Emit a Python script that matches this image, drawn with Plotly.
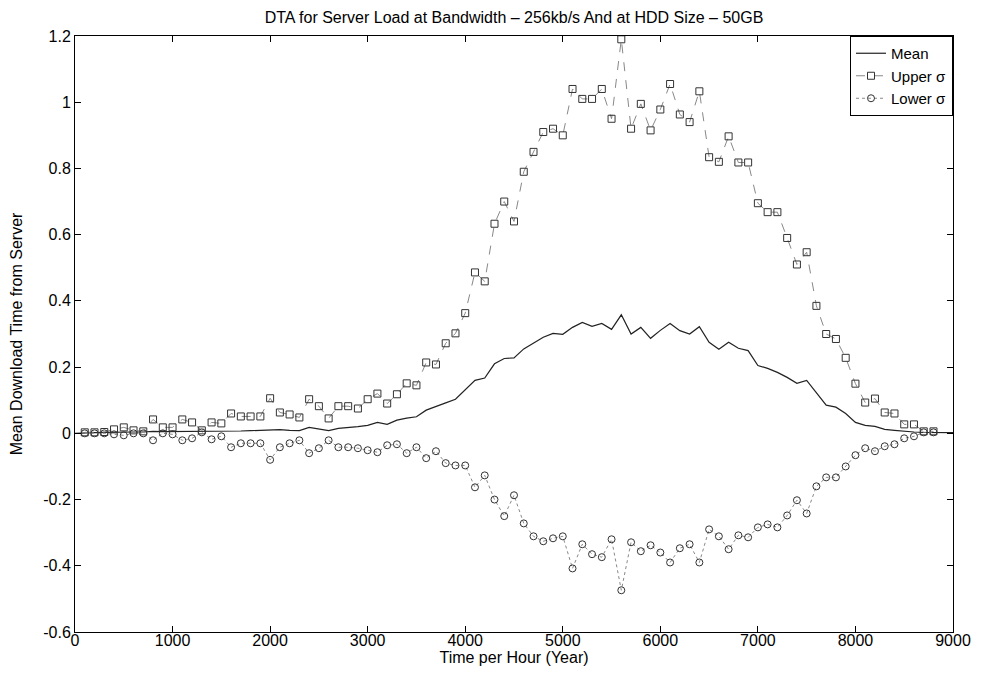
import plotly.graph_objects as go

# Hours at which the mean is plotted
mean_hours = [h * 100 for h in range(0, 91)]
mean_vals = [0.0, 0.002, 0.002, 0.003, 0.004, 0.005, 0.004, 0.004, 0.006, 0.005,
             0.005, 0.006, 0.006, 0.005, 0.006, 0.005, 0.007, 0.007, 0.008, 0.009,
             0.012, 0.011, 0.009, 0.008, 0.018, 0.013, 0.008, 0.015, 0.017, 0.02,
             0.024, 0.033, 0.027, 0.04, 0.046, 0.05, 0.07, 0.082, 0.092, 0.103,
             0.13, 0.16, 0.167, 0.21, 0.226, 0.228, 0.255, 0.272, 0.29, 0.302,
             0.299, 0.32, 0.335, 0.323, 0.332, 0.314, 0.358, 0.30, 0.32, 0.287,
             0.311, 0.332, 0.31, 0.30, 0.322, 0.275, 0.254, 0.275, 0.257, 0.25,
             0.205, 0.196, 0.184, 0.169, 0.151, 0.16, 0.121, 0.085, 0.079, 0.06,
             0.033, 0.024, 0.021, 0.012, 0.009, 0.006, 0.004, 0.003, 0.003, 0.002,
             0.002]

# Hours at which the sigma bands are sampled
sigma_hours = [h * 100 for h in range(1, 89)]
upper_vals = [0.003, 0.003, 0.004, 0.012, 0.018, 0.009, 0.006, 0.042, 0.018, 0.018,
              0.042, 0.033, 0.009, 0.033, 0.03, 0.06, 0.051, 0.051, 0.051, 0.106,
              0.063, 0.057, 0.048, 0.103, 0.082, 0.045, 0.082, 0.082, 0.075, 0.103,
              0.12, 0.09, 0.118, 0.151, 0.145, 0.214, 0.208, 0.272, 0.302, 0.363,
              0.486, 0.459, 0.633, 0.70, 0.64, 0.79, 0.85, 0.91, 0.92, 0.90,
              1.04, 1.01, 1.01, 1.04, 0.95, 1.19, 0.92, 0.995, 0.915, 0.978,
              1.055, 0.963, 0.94, 1.033, 0.834, 0.82, 0.897, 0.818, 0.818, 0.695,
              0.668, 0.668, 0.59, 0.51, 0.547, 0.385, 0.30, 0.285, 0.228, 0.15,
              0.093, 0.105, 0.063, 0.06, 0.027, 0.027, 0.006, 0.006]
lower_vals = [0.0, 0.0, 0.0, -0.003, -0.006, 0.0, 0.0, -0.021, 0.0, -0.003,
              -0.021, -0.015, 0.003, -0.018, -0.009, -0.042, -0.03, -0.03, -0.03, -0.08,
              -0.042, -0.03, -0.021, -0.06, -0.045, -0.021, -0.042, -0.042, -0.045, -0.051,
              -0.057, -0.036, -0.033, -0.06, -0.042, -0.075, -0.054, -0.09, -0.097, -0.097,
              -0.163, -0.127, -0.2, -0.25, -0.187, -0.272, -0.311, -0.326, -0.317, -0.311,
              -0.408, -0.335, -0.365, -0.374, -0.32, -0.474, -0.329, -0.356, -0.338, -0.36,
              -0.39, -0.347, -0.335, -0.39, -0.29, -0.311, -0.35, -0.308, -0.314, -0.284,
              -0.275, -0.284, -0.248, -0.202, -0.242, -0.16, -0.133, -0.133, -0.1, -0.066,
              -0.045, -0.054, -0.039, -0.033, -0.015, -0.009, 0.003, 0.003]

title_text = "DTA for Server Load at Bandwidth – 256kb/s And at HDD Size – 50GB"
x_title = "Time per Hour (Year)"
y_title = "Mean Download Time from Server"
x_ticks = [0, 1000, 2000, 3000, 4000, 5000, 6000, 7000, 8000, 9000]
y_ticks = [-0.6, -0.4, -0.2, 0, 0.2, 0.4, 0.6, 0.8, 1.0, 1.2]
y_ticktext = ["-0.6", "-0.4", "-0.2", "0", "0.2", "0.4", "0.6", "0.8", "1", "1.2"]

FONT = "Liberation Sans, Arial, sans-serif"
FS = 16
W, H = 975, 668  # page body has an 8px margin

fig = go.Figure()
fig.add_trace(go.Scatter(
    x=mean_hours, y=mean_vals, mode="lines", name="Mean",
    line=dict(color="#222222", width=1.2)))
fig.add_trace(go.Scatter(
    x=sigma_hours, y=upper_vals, mode="lines+markers", name="Upper σ",
    line=dict(color="#888888", width=1, dash="dash"),
    marker=dict(symbol="square-open", size=7, color="#333333", line=dict(width=1))))
fig.add_trace(go.Scatter(
    x=sigma_hours, y=lower_vals, mode="lines+markers", name="Lower σ",
    line=dict(color="#888888", width=1, dash="dot"),
    marker=dict(symbol="circle-open", size=7, color="#333333", line=dict(width=1))))

axis_common = dict(
    showgrid=False, zeroline=False, showline=True, linecolor="black", linewidth=1,
    mirror="ticks", ticks="inside", ticklen=6, tickcolor="black", automargin=False,
    tickfont=dict(family=FONT, size=FS, color="black"),
)

fig.update_layout(
    width=W, height=H,
    paper_bgcolor="white", plot_bgcolor="white",
    margin=dict(l=67, r=30, t=28, b=44),
    title=dict(text=title_text, x=(67 + (W - 30)) / 2 / W, xanchor="center", y=1 - 9 / H,
               yanchor="middle", font=dict(family=FONT, size=FS, color="black")),
    xaxis=dict(range=[0, 9000], tickvals=x_ticks, ticktext=[str(v) for v in x_ticks],
               ticklabelstandoff=-6,
               title=dict(text=x_title, standoff=0, font=dict(family=FONT, size=FS, color="black")),
               **axis_common),
    yaxis=dict(range=[-0.6, 1.2], tickvals=y_ticks, ticktext=y_ticktext,
               title=dict(text=y_title, standoff=20, font=dict(family=FONT, size=FS, color="black")),
               **axis_common),
    legend=dict(x=1, y=1, xanchor="right", yanchor="top", bgcolor="white",
                bordercolor="black", borderwidth=1,
                font=dict(family=FONT, size=15, color="black"),
                itemwidth=30, tracegroupgap=0),
    showlegend=True,
)

fig.write_html("out.html")
